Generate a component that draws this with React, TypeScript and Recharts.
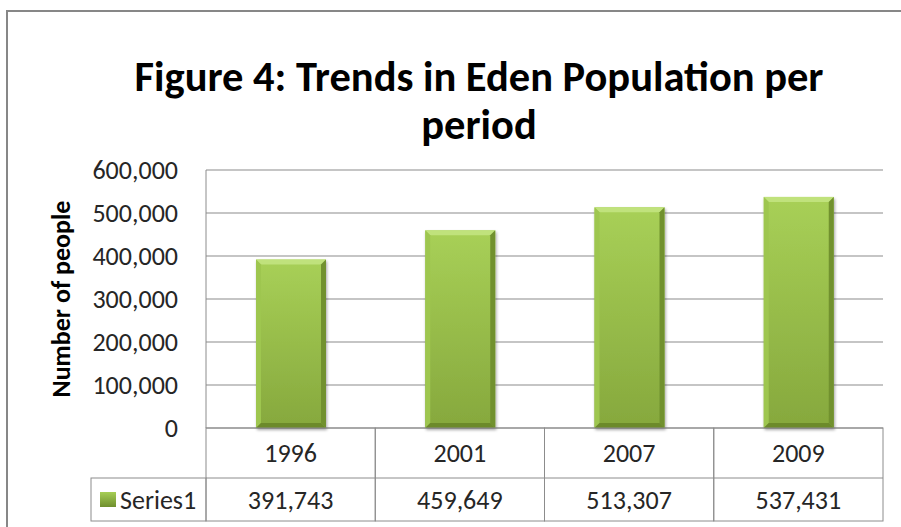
import React from "react";
import { Bar, BarChart, CartesianGrid, XAxis, YAxis } from "recharts";

const categories = ["1996", "2001", "2007", "2009"];
const population = [391743, 459649, 513307, 537431];
const yTicks = [0, 100000, 200000, 300000, 400000, 500000, 600000];
const seriesName = "Series1";
const titleLines = ["Figure 4: Trends in Eden Population per", "period"];
const yLabel = "Number of people";

const FONT = "Carlito, Calibri, Lato, 'Open Sans', sans-serif";
const TEXT = "#262626";
const LINE = "#8c8c8c";

const W = 901;
const H = 527;
const PLOT_LEFT = 206;
const PLOT_RIGHT = 883;
const BAND = (PLOT_RIGHT - PLOT_LEFT) / categories.length;

const fmt = (v: number) => v.toLocaleString("en-US");

const data = categories.map((year, i) => ({ year, value: population[i] }));

function BevelBar(props: any) {
  const { x, y, width, height, index } = props;
  const b = 5;
  const id = `face-${index}`;
  return (
    <g filter="url(#barShadow)">
      <defs>
        <linearGradient id={id} x1="0" y1="0" x2="0" y2="1">
          <stop offset="0%" stopColor="#a8d057" />
          <stop offset="100%" stopColor="#86a83d" />
        </linearGradient>
      </defs>
      <rect x={x} y={y} width={width} height={height} fill={`url(#${id})`} />
      {/* top bevel */}
      <polygon points={`${x},${y} ${x + width},${y} ${x + width - b},${y + b} ${x + b},${y + b}`} fill="#c0e27c" />
      {/* left bevel */}
      <polygon points={`${x},${y} ${x + b},${y + b} ${x + b},${y + height - b} ${x},${y + height}`} fill="#9ec650" />
      {/* right bevel */}
      <polygon points={`${x + width},${y} ${x + width},${y + height} ${x + width - b},${y + height - b} ${x + width - b},${y + b}`} fill="#71912f" />
      {/* bottom bevel */}
      <polygon points={`${x},${y + height} ${x + b},${y + height - b} ${x + width - b},${y + height - b} ${x + width},${y + height}`} fill="#6c8a2c" />
    </g>
  );
}

function TableTick(props: any) {
  const { x, y, payload, index } = props;
  const left = x - BAND / 2;
  const rowH1 = 50;
  const rowH2 = 43;
  return (
    <g>
      {index === 0 && (
        <g>
          <defs>
            <linearGradient id="keyFill" x1="0" y1="0" x2="0" y2="1">
              <stop offset="0%" stopColor="#a6ce55" />
              <stop offset="100%" stopColor="#6f8f2e" />
            </linearGradient>
            <filter id="barShadow" x="-20%" y="-5%" width="140%" height="110%">
              <feDropShadow dx="1" dy="2" stdDeviation="1.5" floodColor="#000" floodOpacity="0.35" />
            </filter>
          </defs>
          <rect x={91} y={y + rowH1} width={left - 91} height={rowH2} fill="none" stroke={LINE} strokeWidth={1} />
          <rect x={100} y={y + rowH1 + 14} width={16} height={15} fill="url(#keyFill)" />
          <text x={120} y={y + rowH1 + rowH2 / 2} dy="0.35em" fontSize={26} fontFamily={FONT} fill={TEXT}>
            {seriesName}
          </text>
        </g>
      )}
      <rect x={left} y={y} width={BAND} height={rowH1 + rowH2} fill="none" stroke={LINE} strokeWidth={1} />
      <line x1={left} x2={left + BAND} y1={y + rowH1} y2={y + rowH1} stroke={LINE} strokeWidth={1} />
      <text x={x} y={y + rowH1 / 2} dy="0.35em" textAnchor="middle" fontSize={26} fontFamily={FONT} fill={TEXT}>
        {payload.value}
      </text>
      <text x={x} y={y + rowH1 + rowH2 / 2} dy="0.35em" textAnchor="middle" fontSize={26} fontFamily={FONT} fill={TEXT}>
        {fmt(population[index])}
      </text>
    </g>
  );
}

export default function App() {
  return (
    <div style={{ position: "absolute", left: 0, top: 0, width: W, height: H, background: "#fff", overflow: "hidden" }}>
      <BarChart
        width={W}
        height={H}
        data={data}
        margin={{ top: 170, right: W - PLOT_RIGHT, bottom: 6, left: 0 }}
        barSize={70}
      >
        <CartesianGrid vertical={false} stroke={LINE} strokeWidth={1.2} />
        <XAxis
          dataKey="year"
          height={93}
          axisLine={false}
          tickLine={false}
          tickSize={0}
          tickMargin={0}
          interval={0}
          tick={<TableTick />}
        />
        <YAxis
          width={PLOT_LEFT}
          domain={[0, 600000]}
          ticks={yTicks}
          tickFormatter={fmt}
          axisLine={{ stroke: LINE }}
          tickLine={false}
          tickSize={0}
          tickMargin={28}
          tick={{ fontSize: 26, fontFamily: FONT, fill: TEXT }}
        />
        <Bar dataKey="value" name={seriesName} shape={<BevelBar />} isAnimationActive={false} />
      </BarChart>
      <svg width={W} height={H} style={{ position: "absolute", left: 0, top: 0, pointerEvents: "none" }}>
        <rect x={7} y={11} width={W} height={H} fill="none" stroke="#878787" strokeWidth={2} />
        {titleLines.map((t, i) => (
          <text
            key={t}
            x={479}
            y={91 + i * 48}
            textAnchor="middle"
            fontSize={42.5}
            fontWeight="bold"
            fontFamily={FONT}
            fill="#000"
          >
            {t}
          </text>
        ))}
        <text
          transform="translate(70,299) rotate(-90)"
          textAnchor="middle"
          fontSize={26}
          fontWeight="bold"
          fontFamily={FONT}
          fill="#000"
        >
          {yLabel}
        </text>
      </svg>
    </div>
  );
}
